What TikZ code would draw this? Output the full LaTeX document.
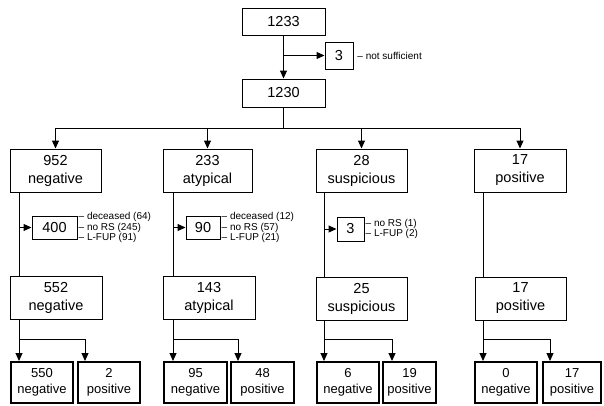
\documentclass[tikz,border=0pt]{standalone}
\usepackage{fontspec}
\setmainfont{Liberation Sans}
\usetikzlibrary{arrows.meta,calc}

\begin{document}
\begin{tikzpicture}[
    x=1pt, y=-1pt,
    box/.style={draw, line width=1pt, align=center, inner sep=0pt, font=\fontsize{14.5}{18}\selectfont},
    res/.style={box, line width=2pt, minimum height=41pt, font=\fontsize{13}{16}\selectfont},
    arr/.style={-{Triangle[length=8pt,width=7pt]}, line width=1pt},
    lin/.style={line width=1pt},
    note/.style={anchor=west, align=left, inner sep=1pt, font=\fontsize{10}{10.5}\selectfont},
]
\useasboundingbox (0,0) rectangle (604,405);

% Top
\node[box, minimum width=83pt, minimum height=27pt] (n1233) at (283.5,21.5) {1233};
\node[box, minimum width=28pt, minimum height=27pt] (nshort) at (339,55.5) {3};
\node[note] (tshort) at (nshort.east) {\ -- not sufficient};
\node[box, minimum width=83pt, minimum height=28pt] (n1230) at (283.5,93) {1230};
\coordinate (bar) at (283.5,128);

% First read
\node[box, minimum width=91pt, minimum height=43pt] (n952) at (55.5,170.5) {952\\negative};
\node[box, minimum width=89pt, minimum height=43pt] (n233) at (207.5,170.5) {233\\atypical};
\node[box, minimum width=91pt, minimum height=43pt] (n28) at (361.5,170.5) {28\\suspicious};
\node[box, minimum width=92pt, minimum height=43pt] (n17a) at (520,170.5) {17\\positive};

% Excluded
\node[box, minimum width=45pt, minimum height=23pt] (x400) at (54.5,227.5) {400};
\node[note] at (x400.east) {-- deceased (64)\\-- no RS (245)\\-- L-FUP (91)};
\node[box, minimum width=34pt, minimum height=23pt] (x90) at (203,227.5) {90};
\node[note] at (x90.east) {-- deceased (12)\\-- no RS (57)\\-- L-FUP (21)};
\node[box, minimum width=27pt, minimum height=24pt] (x3) at (350.5,229) {3};
\node[note] at (x3.east) {-- no RS (1)\\-- L-FUP (2)};

% Followed up
\node[box, minimum width=92pt, minimum height=43pt] (n552) at (56,297.5) {552\\negative};
\node[box, minimum width=92pt, minimum height=43pt] (n143) at (209,297.5) {143\\atypical};
\node[box, minimum width=91pt, minimum height=43pt] (n25) at (361.5,298.5) {25\\suspicious};
\node[box, minimum width=91pt, minimum height=43pt] (n17b) at (520.5,298.5) {17\\positive};

% Results
\node[res, minimum width=62pt] (r550) at (42,382.5) {550\\negative};
\node[res, minimum width=62pt] (r2) at (109,382.5) {2\\positive};
\node[res, minimum width=63pt] (r95) at (195.5,382.5) {95\\negative};
\node[res, minimum width=63pt] (r48) at (262.5,382.5) {48\\positive};
\node[res, minimum width=62pt] (r6) at (348,382.5) {6\\negative};
\node[res, minimum width=53pt] (r19) at (409.5,382.5) {19\\positive};
\node[res, minimum width=62pt] (r0) at (506,382.5) {0\\negative};
\node[res, minimum width=58pt] (r17) at (572,382.5) {17\\positive};

% Split points
\coordinate (s1) at (19,339);
\coordinate (s2) at (173,339);
\coordinate (s3) at (324,339);
\coordinate (s4) at (483,339);

% Top arrows
\draw[arr] (n1233) -- (n1230);
\draw[arr] (nshort.west -| n1233.south) -- (nshort.west);
\draw[lin] (n1230) -- (bar);
\draw[arr] (bar) -| (n952.north);
\draw[arr] (bar) -| (n233.north);
\draw[arr] (bar) -| (n28.north);
\draw[arr] (bar) -| (n17a.north);

% Column 1
\draw[lin] (n952.south -| s1) -- (n552.north -| s1);
\draw[arr] (x400.west -| s1) -- (x400.west);
\draw[arr] (n552.south -| s1) -- (r550.north -| s1);
\draw[arr] (s1) -| ($(r2.north west)+(8,0)$);

% Column 2
\draw[lin] (n233.south -| s2) -- (n143.north -| s2);
\draw[arr] (x90.west -| s2) -- (x90.west);
\draw[arr] (n143.south -| s2) -- (r95.north -| s2);
\draw[arr] (s2) -| ($(r48.north west)+(8,0)$);

% Column 3
\draw[lin] (n28.south -| s3) -- (n25.north -| s3);
\draw[arr] (x3.west -| s3) -- (x3.west);
\draw[arr] (n25.south -| s3) -- (r6.north -| s3);
\draw[arr] (s3) -| ($(r19.north west)+(10,0)$);

% Column 4
\draw[lin] (n17a.south -| s4) -- (n17b.north -| s4);
\draw[arr] (n17b.south -| s4) -- (r0.north -| s4);
\draw[arr] (s4) -| ($(r17.north west)+(8,0)$);
\end{tikzpicture}
\end{document}
